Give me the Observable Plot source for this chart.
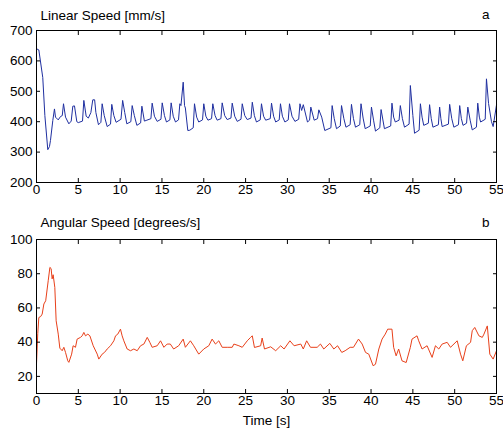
<!DOCTYPE html>
<html>
<head>
<meta charset="utf-8">
<script src="https://cdn.jsdelivr.net/npm/d3@7"></script>
<script src="https://cdn.jsdelivr.net/npm/@observablehq/plot@0.6"></script>
<style>
  html, body { margin: 0; padding: 0; background: #fff; }
  #chart svg { display: block; }
</style>
</head>
<body>
<div id="chart"></div>
<script>
// ---- data ----
const xTicks = [0, 5, 10, 15, 20, 25, 30, 35, 40, 45, 50, 55];
const linTicks = [200, 300, 400, 500, 600, 700];
const angTicks = [20, 40, 60, 80, 100];

const linTime = [0,0.28,0.75,1.0,1.35,1.55,1.67,1.95,2.15,2.27,2.6,2.87,3.08,3.23,3.47,3.87,4.15,4.34,4.54,4.82,5.0,5.5,5.66,5.94,6.2,6.5,6.73,6.95,7.1,7.41,7.7,7.85,8.1,8.45,8.85,9.0,9.25,9.52,10.1,10.3,10.55,10.8,11.28,11.44,11.7,12.0,12.45,12.6,12.9,13.2,13.68,13.83,14.1,14.43,14.88,15.03,15.3,15.54,15.95,16.1,16.35,16.62,16.98,17.14,17.27,17.54,17.7,17.8,18.09,18.33,18.74,18.89,19.15,19.4,19.85,20.0,20.25,20.5,20.93,21.08,21.35,21.6,22.05,22.2,22.5,22.8,23.25,23.4,23.7,24.0,24.45,24.6,24.9,25.2,25.65,25.8,26.05,26.3,26.75,26.9,27.15,27.4,27.95,28.1,28.35,28.6,29.02,29.17,29.4,29.7,30.1,30.25,30.55,30.9,31.35,31.5,31.7,31.9,32.4,32.65,32.8,33.2,33.6,33.76,34.1,34.47,35.2,35.35,35.6,35.87,36.32,36.47,36.75,37.0,37.5,37.66,37.9,38.14,38.65,38.8,39.05,39.3,39.9,40.05,40.3,40.53,41.05,41.2,41.6,42.35,42.5,42.7,42.9,43.35,43.5,43.75,44.0,44.55,44.7,45.0,45.2,45.75,45.9,46.1,46.3,46.85,47.0,47.2,47.4,48.05,48.2,48.35,48.5,49.25,49.4,49.65,49.9,50.45,50.6,50.8,51.0,51.42,51.57,51.85,52.1,52.6,52.76,52.95,53.1,53.65,53.8,54.05,54.4,54.6,55];
const linSpeed = [640,636,545,420,308,318,338,404,442,415,406,417,420,459,415,393,402,451,452,400,397,402,470,418,412,430,472,472,430,390,398,459,420,384,392,457,420,398,408,470,430,393,400,453,420,388,396,451,402,405,410,461,418,401,408,462,420,399,406,462,418,399,406,459,453,530,453,445,371,372,380,459,415,399,406,459,418,405,410,459,420,405,410,462,420,407,412,461,418,401,408,459,420,407,412,464,420,399,406,459,418,405,410,461,418,399,406,459,418,399,406,459,418,401,408,459,437,456,399,405,448,405,410,439,415,371,380,453,410,377,386,453,410,382,390,457,410,382,390,459,412,377,386,448,405,369,380,440,377,386,461,415,399,405,453,410,382,392,519,420,362,372,459,415,388,395,456,410,382,390,448,410,384,392,457,410,382,390,453,410,388,395,448,405,373,382,461,415,399,408,541,460,400,384,455];

const angTime = [0,0.15,0.28,0.5,0.68,0.88,1.1,1.4,1.6,1.75,1.87,1.99,2.19,2.35,2.6,2.79,3.07,3.27,3.47,3.74,3.87,4.2,4.38,4.66,4.86,5.26,5.46,5.66,5.86,6.14,6.38,6.78,7.26,7.45,7.85,8.13,8.45,8.85,9.25,9.45,9.72,10.04,10.24,10.44,10.84,11.24,11.64,12.04,12.44,12.84,13.24,13.55,13.83,14.43,14.83,15.23,15.62,16.0,16.4,17.0,17.54,17.8,18.4,18.8,19.4,20.0,20.6,21.0,21.4,21.8,22.2,22.8,23.4,23.6,24.2,24.6,25.2,25.6,25.8,26.06,26.8,26.98,27.26,28.0,28.6,29.2,29.6,30.3,30.8,31.6,31.9,32.3,32.76,33.56,33.95,34.35,35.07,35.55,36.0,36.5,36.9,37.5,37.9,38.5,38.94,39.34,39.73,40.25,40.53,40.93,41.32,41.7,41.99,42.5,42.7,43.0,43.3,43.7,44.2,44.7,44.9,45.5,45.7,46.1,46.7,47.3,47.7,48.1,48.5,49.1,49.5,50.3,50.7,50.97,51.4,51.9,52.1,52.4,52.9,53.3,53.5,53.9,54.2,54.6,55];
const angSpeed = [27.2,45,54.4,55,56.4,62.3,64.2,75.9,83.7,83,77,79.4,72,52.5,44.7,36.5,35,37,34,29.1,28.2,33,37.9,37,41.8,42.8,43.7,45.7,43.7,44.7,43.7,37.9,33,30.1,33,34,36,37.9,40.8,43.7,44.7,47.6,43.7,40.8,36,35,36,35,37.9,38.9,42.8,39.9,37,37.9,40.8,37,38.9,38.9,36,37.9,41.8,37,40.8,37.9,33,36,37.9,41.8,38.9,40.8,37,37,37,38.9,37.9,37,40.8,42.8,43.7,36.9,37.9,42.4,36,37.3,35,37.9,36,40.8,37.9,38.9,36,40.8,37,37,38.9,36,39.3,36,37.9,34,35,37,37,41.8,38.9,34,33,26.2,27.1,36,41.8,44.7,47.6,47.6,37,32,36,29.1,28.1,37,41.8,43.7,40.8,36,37.9,31.1,37.9,36,38.9,39.9,37,40.8,33,29.1,37.9,39.9,46.7,48.6,43.7,42.8,44.7,49.5,33,30.1,35];

// ---- drawing ----
const FONT = "'Liberation Sans', Arial, Helvetica, sans-serif";
const FS = 13.5;

function boxAxes(yTicks) {
  return [
    Plot.frame({stroke: "#000", strokeWidth: 1}),
    Plot.axisX(xTicks, {anchor: "bottom", tickSize: 0, tickPadding: 2, fontSize: FS, fill: "#000"}),
    Plot.axisX(xTicks, {anchor: "bottom", tickSize: 4, fill: "none", dy: -4, stroke: "#000"}),
    Plot.axisX(xTicks, {anchor: "top", tickSize: 4, fill: "none", dy: 4, stroke: "#000"}),
    Plot.axisY(yTicks, {anchor: "left", tickSize: 0, tickPadding: 4, fontSize: FS, fill: "#000"}),
    Plot.axisY(yTicks, {anchor: "left", tickSize: 4, fill: "none", dx: 4, stroke: "#000"}),
    Plot.axisY(yTicks, {anchor: "right", tickSize: 4, fill: "none", dx: -4, stroke: "#000"})
  ];
}

const topPlot = Plot.plot({
  width: 503, height: 210,
  marginTop: 30, marginBottom: 28, marginLeft: 36, marginRight: 7,
  style: {fontFamily: FONT, fontSize: FS + "px", background: "#fff"},
  x: {domain: [0, 55], axis: null},
  y: {domain: [200, 700], axis: null},
  marks: [
    Plot.line(linTime, {x: linTime, y: linSpeed, stroke: "#1f2fa0", strokeWidth: 1}),
    ...boxAxes(linTicks),
    Plot.text(["Linear Speed [mm/s]"], {text: d => d, frameAnchor: "top-left", textAnchor: "start", lineAnchor: "bottom", dx: 4, dy: -10.5, fontSize: FS, fill: "#000"}),
    Plot.text(["a"], {text: d => d, frameAnchor: "top-right", textAnchor: "end", lineAnchor: "bottom", dx: -7, dy: -11.5, fontSize: FS, fill: "#000"})
  ]
});

const bottomPlot = Plot.plot({
  width: 503, height: 222,
  marginTop: 29, marginBottom: 39, marginLeft: 36, marginRight: 7,
  style: {fontFamily: FONT, fontSize: FS + "px", background: "#fff"},
  x: {domain: [0, 55], axis: null},
  y: {domain: [10, 100], axis: null},
  marks: [
    Plot.line(angTime, {x: angTime, y: angSpeed, stroke: "#e8401a", strokeWidth: 1}),
    ...boxAxes(angTicks),
    Plot.text(["Angular Speed [degrees/s]"], {text: d => d, frameAnchor: "top-left", textAnchor: "start", lineAnchor: "bottom", dx: 4, dy: -12.5, fontSize: FS, fill: "#000"}),
    Plot.text(["b"], {text: d => d, frameAnchor: "top-right", textAnchor: "end", lineAnchor: "bottom", dx: -7, dy: -13, fontSize: FS, fill: "#000"}),
    Plot.text(["Time [s]"], {text: d => d, frameAnchor: "bottom", textAnchor: "middle", lineAnchor: "bottom", dy: 31, fontSize: FS, fill: "#000"})
  ]
});

const chart = document.getElementById("chart");
chart.appendChild(topPlot);
chart.appendChild(bottomPlot);
</script>
</body>
</html>
